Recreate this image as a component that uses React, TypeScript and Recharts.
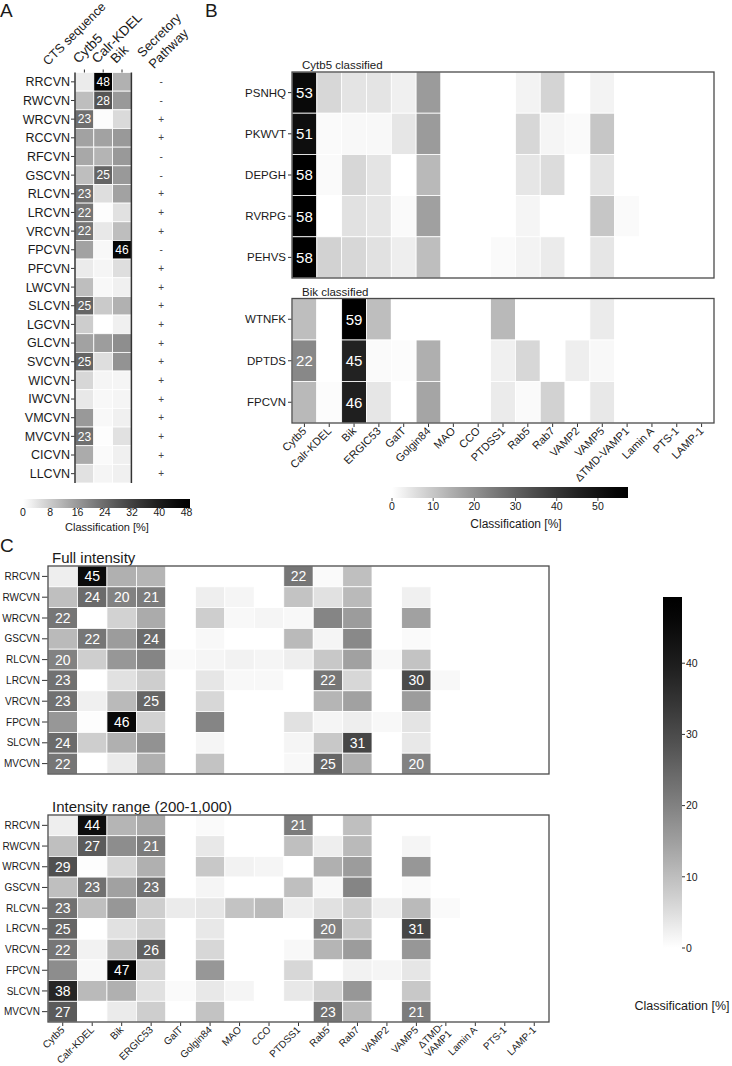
import React from 'react';
import { ScatterChart, Scatter, XAxis, YAxis, BarChart, Bar } from 'recharts';

const FONT = "Arial, 'Liberation Sans', Helvetica, sans-serif";

// ---------- panel A ----------
const ctsA = [
  'RRCVN', 'RWCVN', 'WRCVN', 'RCCVN', 'RFCVN', 'GSCVN', 'RLCVN', 'LRCVN', 'VRCVN', 'FPCVN', 'PFCVN',
  'LWCVN', 'SLCVN', 'LGCVN', 'GLCVN', 'SVCVN', 'WICVN', 'IWCVN', 'VMCVN', 'MVCVN', 'CICVN', 'LLCVN',
];
const headerA = ['Cytb5', 'Calr-KDEL', 'Bik'];
const secretoryA = ['-', '-', '+', '+', '-', '-', '+', '+', '+', '-', '+', '+', '+', '+', '+', '+', '+', '+', '+', '+', '+', '+'];
// Cytb5, Calr-KDEL, Bik
const valuesA = [
  [3, 48, 12],
  [10, 28, 16],
  [23, 0.5, 5.5],
  [14.5, 14.5, 16],
  [13.5, 11.5, 16],
  [10, 25, 16],
  [23, 5, 14.5],
  [22, 0.3, 4.5],
  [22, 3.5, 10],
  [14.4, 1, 46],
  [3, 1.5, 5],
  [10, 1, 2.2],
  [25, 8, 12],
  [7.5, 0, 2.2],
  [14.5, 15.3, 17.7],
  [25, 5, 17],
  [6, 1.5, 1.5],
  [3.5, 1, 1.5],
  [16, 1, 2.2],
  [23, 0.3, 4.5],
  [13, 0.8, 2.2],
  [4.5, 1.5, 2.2],
];
const colorTicksA = [0, 8, 16, 24, 32, 40, 48];
const scaleMaxA = 49;

// ---------- panel B ----------
const compartmentsB = [
  'Cytb5', 'Calr-KDEL', 'Bik', 'ERGIC53', 'GalT', 'Golgin84', 'MAO', 'CCO', 'PTDSS1',
  'Rab5', 'Rab7', 'VAMP2', 'VAMP5', 'ΔTMD-VAMP1', 'Lamin A', 'PTS-1', 'LAMP-1',
];
const cytb5Rows = ['PSNHQ', 'PKWVT', 'DEPGH', 'RVRPG', 'PEHVS'];
const cytb5Values = [
  [53, 7, 4.7, 4.7, 2.6, 18.2, 0, 0, 0, 2.1, 7.5, 0, 2.1, 0, 0, 0, 0],
  [51, 0.9, 1.2, 1.2, 4.4, 18.2, 0, 0, 0, 7, 1.7, 0.9, 10.1, 0, 0, 0, 0],
  [58, 0.9, 7, 4.7, 0, 12.5, 0, 0, 0, 4.4, 6.2, 0, 4.7, 0, 0, 0, 0],
  [58, 0, 5.3, 4.4, 0.9, 17.2, 0, 0, 0, 1.7, 0, 0, 10.1, 0.9, 0, 0, 0],
  [58, 8, 7, 5.3, 3, 11.6, 0, 0, 0.9, 2.1, 3.5, 0, 4.4, 0, 0, 0, 0],
];
const bikRows = ['WTNFK', 'DPTDS', 'FPCVN'];
const bikValues = [
  [11.6, 0, 59, 11.6, 0, 0, 0, 0, 12.5, 0, 0, 0, 3.5, 0, 0, 0, 0],
  [22, 0, 45, 0.9, 0.5, 14.4, 0, 0, 2.6, 7, 0, 3, 1.2, 0, 0, 0, 0],
  [12.5, 0.5, 46, 4.4, 0, 16.3, 0, 0, 3.5, 0.9, 8, 0, 4, 0, 0, 0, 0],
];
const colorTicksB = [0, 10, 20, 30, 40, 50];
const scaleMaxB = 57.3;

// ---------- panel C ----------
const compartmentsC = [
  'Cytb5', 'Calr-KDEL', 'Bik', 'ERGIC53', 'GalT', 'Golgin84', 'MAO', 'CCO', 'PTDSS1',
  'Rab5', 'Rab7', 'VAMP2', 'VAMP5', 'ΔTMD-\nVAMP1', 'Lamin A', 'PTS-1', 'LAMP-1',
];
const ctsC = ['RRCVN', 'RWCVN', 'WRCVN', 'GSCVN', 'RLCVN', 'LRCVN', 'VRCVN', 'FPCVN', 'SLCVN', 'MVCVN'];
const fullIntensity = [
  [2.5, 45, 12.3, 11.5, 0, 0, 0, 0, 22, 0.7, 9.9, 0, 0, 0, 0, 0, 0],
  [9.9, 24, 20, 21, 0, 2.5, 1.5, 0, 9.2, 4.5, 10.7, 0, 2.3, 0, 0, 0, 0],
  [22, 0, 6.8, 13.1, 0, 7.5, 1, 1.5, 1, 19.5, 15.6, 0, 14.7, 0, 0, 0, 0],
  [10.7, 22, 15.6, 24, 0, 1, 0, 0, 10.7, 1.5, 18.8, 0, 0.7, 0, 0, 0, 0],
  [20, 7.5, 16.4, 19.5, 0.7, 1.5, 2, 1.5, 2.5, 8.4, 14.7, 1, 9.2, 0, 0, 0, 0],
  [23, 0, 4.5, 7.5, 0, 3.7, 1, 1, 0, 22, 6, 0, 30, 1, 0, 0, 0],
  [23, 2.3, 10.7, 25, 0, 6, 0, 0, 0, 11.5, 14.7, 0, 15.6, 0, 0, 0, 0],
  [16.4, 0.3, 46, 6.8, 0, 19.5, 0, 0, 4.5, 1.5, 2.5, 1, 4, 0, 0, 0, 0],
  [24, 7.5, 12.3, 17.2, 0, 1.5, 0, 0, 1.5, 8.4, 31, 0, 3.4, 0, 0, 0, 0],
  [22, 0, 3, 12.3, 0, 9.2, 0, 0, 1, 25, 12.3, 0, 20, 0, 0, 0, 0],
];
const intensityRange = [
  [2.5, 44, 11.5, 13.1, 0, 0.7, 0, 0, 21, 0, 9.9, 0, 0, 0, 0, 0, 0],
  [9.9, 27, 18.1, 21, 0, 3.4, 0, 0, 9.9, 2.5, 10.7, 0, 1.5, 0, 0, 0, 0],
  [29, 0.3, 6, 12.3, 0, 8.4, 2, 1.5, 0, 12.3, 15.6, 0, 16.4, 0, 0, 0, 0],
  [9.9, 23, 14.7, 23, 0, 1.5, 0, 0, 9.9, 1, 19.5, 0, 0.7, 0, 0, 0, 0],
  [23, 9.9, 16.4, 7.5, 3, 3.7, 9.2, 10.7, 2.5, 4.5, 7.5, 2.3, 10.7, 0.7, 0, 0, 0],
  [25, 0, 4.5, 6.8, 0, 3.4, 0, 0, 0, 20, 8.4, 0, 31, 0, 0, 0, 0],
  [22, 2, 9.9, 26, 0, 6, 0, 0, 1, 11.5, 15.6, 0, 16.4, 0, 0, 0, 0],
  [18.1, 1, 47, 6.8, 0, 16.4, 0, 0, 6, 0, 2, 1.5, 3.7, 0, 0, 0, 0],
  [38, 10.7, 12.3, 4.5, 0.7, 3.4, 1.5, 0, 3.4, 6.8, 16.4, 0, 8.4, 0, 0, 0, 0],
  [27, 0, 3, 7.5, 0, 9.2, 0, 0, 0, 23, 10.7, 0, 21, 0, 0, 0, 0],
];
const colorTicksC = [0, 10, 20, 30, 40];
const scaleMaxC = 49.3;

const labelMin = 20; // cells at or above this get their value printed

// white -> black, slightly darkened mid-tones like the original colour map
function shade(v: number, max: number) {
  const t = Math.min(1, Math.max(0, v / max));
  const g = Math.round(255 * Math.pow(1 - t, 1.3));
  return `rgb(${g},${g},${g})`;
}

const toCells = (values: number[][]) =>
  values.flatMap((row, r) => row.map((v, c) => ({ x: c, y: r, v })));

function cellShape(cw: number, ch: number, max: number, fontSize: number) {
  return (p: any) => {
    const v = p.payload.v;
    return (
      <g>
        <rect x={p.cx - cw / 2} y={p.cy - ch / 2} width={cw} height={ch} fill={shade(v, max)} stroke="#fff" strokeWidth={0.8} />
        {v >= labelMin && (
          <text x={p.cx} y={p.cy} dy="0.36em" textAnchor="middle" fontSize={fontSize} fill="#fff">
            {Math.round(v)}
          </text>
        )}
      </g>
    );
  };
}

function frameShape(w: number, h: number) {
  return (p: any) => <rect x={p.cx} y={p.cy} width={w} height={h} fill="none" stroke="#4a4a4a" strokeWidth={1.3} />;
}

function RotTick(p: any) {
  const { x, y, payload, labels, fontSize } = p;
  const lines = String(labels[payload.value]).split('\n');
  return (
    <text transform={`translate(${x},${y}) rotate(-45)`} textAnchor="end" fontSize={fontSize} fill="#1a1a1a">
      {lines.map((l: string, i: number) => (
        <tspan key={i} x={0} dy={i === 0 ? `${0.35 - (lines.length - 1) * 0.55}em` : '1.1em'}>
          {l}
        </tspan>
      ))}
    </text>
  );
}

function Txt({ x, y, size, children, w, align }: any) {
  return (
    <div
      style={{
        position: 'absolute',
        left: x,
        top: y - 0.85 * size,
        fontSize: size,
        lineHeight: 1,
        whiteSpace: 'nowrap',
        width: w,
        textAlign: align || 'left',
      }}
    >
      {children}
    </div>
  );
}

function Pos({ x, y, children }: any) {
  return <div style={{ position: 'absolute', left: x, top: y }}>{children}</div>;
}

function PanelA() {
  const W = 200, H = 492;
  const margin = { top: 0.5, right: 31, bottom: 3, left: 0 };
  const yW = 75, topH = 72, botH = 6;
  const plotW = W - margin.left - margin.right - yW;
  const plotH = H - margin.top - margin.bottom - topH - botH;
  const nX = 5; // three heat columns, a spacer, the secretory column
  const cw = plotW / nX;
  const ch = plotH / ctsA.length;
  const signs = secretoryA.map((s, r) => ({ x: 4, y: r, s }));

  const topTick = (p: any) => {
    const { x, y, payload } = p;
    if (payload.value === 4) {
      return (
        <text transform={`translate(${x - 17},${y - 10.5}) rotate(-45)`} fontSize={13} fill="#1a1a1a">
          <tspan x={0} dy={0}>Secretory</tspan>
          <tspan x={0} dy={16}>Pathway</tspan>
        </text>
      );
    }
    return (
      <g>
        <line x1={x} x2={x} y1={y + 1} y2={y + 4} stroke="#333" />
        <text transform={`translate(${x - 6},${y - 4.5}) rotate(-45)`} fontSize={13.5} fill="#1a1a1a">
          {headerA[payload.value]}
        </text>
      </g>
    );
  };

  const ctsLabel = (lp: any) => {
    const vb = lp && lp.viewBox ? lp.viewBox : { x: 0, y: 72.5 };
    return (
      <text transform={`translate(${vb.x + 48},${vb.y - 6.5}) rotate(-45)`} fontSize={12.5} fill="#1a1a1a">
        CTS sequence
      </text>
    );
  };

  return (
    <ScatterChart width={W} height={H} margin={margin}>
      <XAxis type="number" dataKey="x" domain={[-0.5, nX - 0.5]} ticks={[0, 1, 2]} interval={0} height={botH}
        axisLine={false} tick={false} tickSize={4} tickLine={{ stroke: '#333' }} />
      <XAxis xAxisId="top" orientation="top" type="number" dataKey="x" domain={[-0.5, nX - 0.5]} ticks={[0, 1, 2, 4]}
        interval={0} height={topH} axisLine={false} tickLine={false} tickSize={3} tickMargin={1} tick={topTick} />
      <YAxis type="number" dataKey="y" domain={[-0.5, ctsA.length - 0.5]} reversed ticks={ctsA.map((_, i) => i)}
        interval={0} width={yW} axisLine={false} tickSize={4} tickMargin={1} tickLine={{ stroke: '#333' }}
        tickFormatter={(i: number) => ctsA[i]} tick={{ fontSize: 12.5, fill: '#1a1a1a' }} label={ctsLabel} />
      <Scatter data={toCells(valuesA)} shape={cellShape(cw, ch, scaleMaxA, 12)} isAnimationActive={false} />
      <Scatter xAxisId="top" data={signs} isAnimationActive={false}
        shape={(p: any) => (
          <text x={p.cx + 1.5} y={p.cy} dy="0.35em" textAnchor="middle" fontSize={10} fill="#444">{p.payload.s}</text>
        )} />
      <Scatter data={[{ x: -0.5, y: -0.5 }]} isAnimationActive={false}
        shape={(p: any) => (
          <g>
            <line x1={p.cx} x2={p.cx} y1={p.cy} y2={p.cy + plotH} stroke="#333" strokeWidth={1.5} />
            <line x1={p.cx + 3 * cw} x2={p.cx + 3 * cw} y1={p.cy} y2={p.cy + plotH} stroke="#333" strokeWidth={1.5} />
          </g>
        )} />
    </ScatterChart>
  );
}

function Heatmap(props: any) {
  const { rows, cols, values, max, width, height, margin, yWidth, xHeight, yFont, yTickSize, yTickMargin, cellFont, xFont } = props;
  const plotW = width - margin.left - margin.right - yWidth;
  const plotH = height - margin.top - margin.bottom - (xHeight || 0);
  const cw = plotW / cols.length;
  const ch = plotH / rows.length;
  return (
    <ScatterChart width={width} height={height} margin={margin}>
      <XAxis type="number" dataKey="x" domain={[-0.5, cols.length - 0.5]} ticks={cols.map((_: string, i: number) => i)}
        interval={0} hide={!xHeight} height={xHeight || 0} axisLine={false} tickSize={4} tickMargin={2}
        tickLine={{ stroke: '#333' }} tick={(tp: any) => <RotTick {...tp} labels={cols} fontSize={xFont} />} />
      <YAxis type="number" dataKey="y" domain={[-0.5, rows.length - 0.5]} reversed ticks={rows.map((_: string, i: number) => i)}
        interval={0} width={yWidth} axisLine={false} tickSize={yTickSize} tickMargin={yTickMargin}
        tickLine={{ stroke: '#333' }} tickFormatter={(i: number) => rows[i]} tick={{ fontSize: yFont, fill: '#1a1a1a' }} />
      <Scatter data={toCells(values)} shape={cellShape(cw, ch, max, cellFont)} isAnimationActive={false} />
      <Scatter data={[{ x: -0.5, y: -0.5 }]} shape={frameShape(plotW, plotH)} isAnimationActive={false} />
    </ScatterChart>
  );
}

function stops(max: number) {
  return Array.from({ length: 21 }, (_, i) => (
    <stop key={i} offset={i / 20} stopColor={shade((i / 20) * max, max)} />
  ));
}

function ColorbarH({ id, max, ticks, width, height, margin, axisHeight, font, tickSize, tickMargin }: any) {
  return (
    <BarChart layout="vertical" width={width} height={height} margin={margin} data={[{ k: 'scale', v: max }]} barCategoryGap={0}>
      <defs>
        <linearGradient id={id} x1="0" y1="0" x2="1" y2="0">{stops(max)}</linearGradient>
      </defs>
      <XAxis type="number" domain={[0, max]} ticks={ticks} interval={0} height={axisHeight} axisLine={false}
        tickSize={tickSize} tickMargin={tickMargin} tickLine={{ stroke: '#555' }} tick={{ fontSize: font, fill: '#1a1a1a' }} />
      <YAxis type="category" dataKey="k" hide />
      <Bar dataKey="v" fill={`url(#${id})`} isAnimationActive={false} />
    </BarChart>
  );
}

function ColorbarV() {
  return (
    <BarChart width={92} height={370} margin={{ top: 7, right: 10, bottom: 12, left: 23 }}
      data={[{ k: 'scale', v: scaleMaxC }]} barCategoryGap={0}>
      <defs>
        <linearGradient id="gradC" x1="0" y1="1" x2="0" y2="0">{stops(scaleMaxC)}</linearGradient>
      </defs>
      <XAxis dataKey="k" hide />
      <YAxis orientation="right" type="number" domain={[0, scaleMaxC]} ticks={colorTicksC} interval={0} width={40}
        axisLine={false} tickSize={3} tickMargin={1} tickLine={{ stroke: '#333' }} tick={{ fontSize: 10.5, fill: '#1a1a1a' }} />
      <Bar dataKey="v" fill="url(#gradC)" isAnimationActive={false} />
    </BarChart>
  );
}

export default function App() {
  return (
    <div style={{ position: 'absolute', left: 0, top: 0, width: 732, height: 1066, background: '#fff', fontFamily: FONT, color: '#1a1a1a', overflow: 'hidden' }}>
      {/* A */}
      <Pos x={0} y={0}><PanelA /></Pos>
      <Pos x={0} y={492}>
        <ColorbarH id="gradA" max={scaleMaxA} ticks={colorTicksA} width={200} height={28}
          margin={{ top: 7, right: 10, bottom: 0, left: 23 }} axisHeight={12} font={10.5} tickSize={1} tickMargin={0} />
      </Pos>
      <Txt x={7} y={531} size={11} w={200} align="center">Classification [%]</Txt>

      {/* B */}
      <Pos x={200} y={40}>
        <Heatmap rows={cytb5Rows} cols={compartmentsB} values={cytb5Values} max={scaleMaxB} width={530} height={245}
          margin={{ top: 32, right: 16, bottom: 7, left: 0 }} yWidth={92} xHeight={0} yFont={11.5} yTickSize={4}
          yTickMargin={2} cellFont={15} xFont={11} />
      </Pos>
      <Txt x={302} y={70} size={11.5}>Cytb5 classified</Txt>
      <Pos x={200} y={285}>
        <Heatmap rows={bikRows} cols={compartmentsB} values={bikValues} max={scaleMaxB} width={530} height={200}
          margin={{ top: 13.5, right: 16, bottom: 0, left: 0 }} yWidth={92} xHeight={62} yFont={11.5} yTickSize={4}
          yTickMargin={2} cellFont={15} xFont={11} />
      </Pos>
      <Txt x={302} y={297} size={11.5}>Bik classified</Txt>
      <Pos x={380} y={480}>
        <ColorbarH id="gradB" max={scaleMaxB} ticks={colorTicksB} width={270} height={40}
          margin={{ top: 7, right: 22, bottom: 2, left: 12 }} axisHeight={20} font={10.5} tickSize={3} tickMargin={2} />
      </Pos>
      <Txt x={416} y={528} size={12} w={200} align="center">Classification [%]</Txt>

      {/* C */}
      <Txt x={52} y={563} size={15}>Full intensity</Txt>
      <Pos x={0} y={560}>
        <Heatmap rows={ctsC} cols={compartmentsC} values={fullIntensity} max={scaleMaxC} width={560} height={220}
          margin={{ top: 6, right: 11, bottom: 6, left: 0 }} yWidth={48} xHeight={0} yFont={10} yTickSize={6}
          yTickMargin={2} cellFont={14} xFont={10} />
      </Pos>
      <Txt x={52} y={812} size={15}>Intensity range (200-1,000)</Txt>
      <Pos x={0} y={805}>
        <Heatmap rows={ctsC} cols={compartmentsC} values={intensityRange} max={scaleMaxC} width={560} height={261}
          margin={{ top: 10, right: 11, bottom: 0, left: 0 }} yWidth={48} xHeight={44} yFont={10} yTickSize={6}
          yTickMargin={2} cellFont={14} xFont={10} />
      </Pos>
      <Pos x={640} y={590}><ColorbarV /></Pos>
      <Txt x={582} y={1011} size={12.5} w={200} align="center">Classification [%]</Txt>

      {/* panel letters */}
      <Txt x={0} y={17} size={19}>A</Txt>
      <Txt x={205} y={17} size={19}>B</Txt>
      <Txt x={0} y={552.5} size={19}>C</Txt>
    </div>
  );
}
